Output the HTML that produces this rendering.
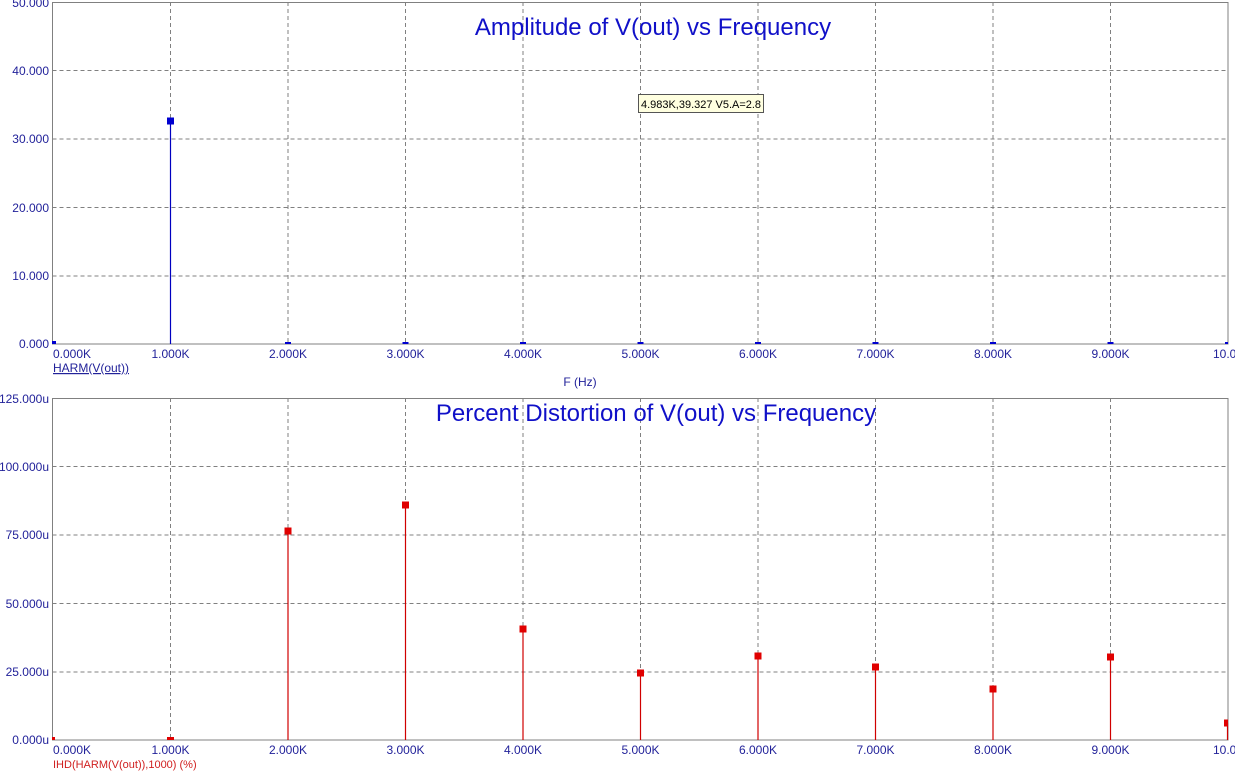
<!DOCTYPE html>
<html><head><meta charset="utf-8"><style>
html,body{margin:0;padding:0;background:#fff;}
svg{display:block;font-family:"Liberation Sans",Arial,sans-serif;}
.t{fill:#22229a;font-size:12px;}
.g{stroke:#808080;stroke-width:1;stroke-dasharray:4,3;}
</style></head><body>
<svg width="1235" height="774" viewBox="0 0 1235 774">
<rect width="1235" height="774" fill="#fff"/>
<!-- TOP PLOT -->
<g class="g">
<line x1="52.5" y1="70.5" x2="1228" y2="70.5"/><line x1="52.5" y1="139" x2="1228" y2="139"/>
<line x1="52.5" y1="207.5" x2="1228" y2="207.5"/><line x1="52.5" y1="276" x2="1228" y2="276"/>
<line x1="170.5" y1="2" x2="170.5" y2="344"/><line x1="288" y1="2" x2="288" y2="344"/>
<line x1="405.5" y1="2" x2="405.5" y2="344"/><line x1="523" y1="2" x2="523" y2="344"/>
<line x1="640.5" y1="2" x2="640.5" y2="344"/><line x1="758" y1="2" x2="758" y2="344"/>
<line x1="875.5" y1="2" x2="875.5" y2="344"/><line x1="993" y1="2" x2="993" y2="344"/>
<line x1="1110.5" y1="2" x2="1110.5" y2="344"/>
</g>
<rect x="52.5" y="2.5" width="1175.5" height="341.5" fill="none" stroke="#808080"/>
<text x="653" y="35" font-size="24" fill="#1010c8" text-anchor="middle">Amplitude of V(out) vs Frequency</text>
<rect x="638.5" y="94.5" width="125" height="18" fill="#ffffe0" stroke="#555"/>
<text x="641" y="108" font-size="11" fill="#000" textLength="120" lengthAdjust="spacingAndGlyphs">4.983K,39.327 V5.A=2.8</text>
<g class="t" text-anchor="end">
<text x="49" y="7">50.000</text><text x="49" y="75">40.000</text><text x="49" y="143">30.000</text>
<text x="49" y="212">20.000</text><text x="49" y="280">10.000</text><text x="49" y="348">0.000</text>
</g>
<g stroke="#0000c0" stroke-width="1.2"><line x1="170.5" y1="121" x2="170.5" y2="344"/></g>
<g fill="#0000d0">
<rect x="167" y="117.5" width="7" height="7"/>
<rect x="52" y="341" width="4" height="3"/>
<rect x="285" y="342" width="6" height="2"/><rect x="402.5" y="342" width="6" height="2"/>
<rect x="520" y="342" width="6" height="2"/><rect x="637.5" y="342" width="6" height="2"/>
<rect x="755" y="342" width="6" height="2"/><rect x="872.5" y="342" width="6" height="2"/>
<rect x="990" y="342" width="6" height="2"/><rect x="1107.5" y="342" width="6" height="2"/>
<rect x="1225" y="342" width="3" height="2"/>
</g>
<g class="t" text-anchor="middle">
<text x="53" y="358" text-anchor="start">0.000K</text><text x="170.5" y="358">1.000K</text>
<text x="288" y="358">2.000K</text><text x="405.5" y="358">3.000K</text><text x="523" y="358">4.000K</text>
<text x="640.5" y="358">5.000K</text><text x="758" y="358">6.000K</text><text x="875.5" y="358">7.000K</text>
<text x="993" y="358">8.000K</text><text x="1110.5" y="358">9.000K</text><text x="1213" y="358" text-anchor="start">10.000K</text>
</g>
<text x="53" y="372" class="t" font-size="11" text-decoration="underline">HARM(V(out))</text>
<text x="580" y="386" class="t" font-size="11" text-anchor="middle">F (Hz)</text>
<!-- BOTTOM PLOT -->
<g class="g">
<line x1="52.5" y1="466.5" x2="1228" y2="466.5"/><line x1="52.5" y1="535" x2="1228" y2="535"/>
<line x1="52.5" y1="603.5" x2="1228" y2="603.5"/><line x1="52.5" y1="672" x2="1228" y2="672"/>
<line x1="170.5" y1="398" x2="170.5" y2="740"/><line x1="288" y1="398" x2="288" y2="740"/>
<line x1="405.5" y1="398" x2="405.5" y2="740"/><line x1="523" y1="398" x2="523" y2="740"/>
<line x1="640.5" y1="398" x2="640.5" y2="740"/><line x1="758" y1="398" x2="758" y2="740"/>
<line x1="875.5" y1="398" x2="875.5" y2="740"/><line x1="993" y1="398" x2="993" y2="740"/>
<line x1="1110.5" y1="398" x2="1110.5" y2="740"/>
</g>
<rect x="52.5" y="398.5" width="1175.5" height="341.5" fill="none" stroke="#808080"/>
<text x="656" y="421" font-size="24" fill="#1010c8" text-anchor="middle">Percent Distortion of V(out) vs Frequency</text>
<g class="t" text-anchor="end">
<text x="49" y="403">125.000u</text><text x="49" y="471">100.000u</text><text x="49" y="539">75.000u</text>
<text x="49" y="608">50.000u</text><text x="49" y="676">25.000u</text><text x="49" y="744">0.000u</text>
</g>
<g stroke="#d00000" stroke-width="1.2">
<line x1="288" y1="531" x2="288" y2="740"/><line x1="405.5" y1="505" x2="405.5" y2="740"/>
<line x1="523" y1="629" x2="523" y2="740"/><line x1="640.5" y1="673" x2="640.5" y2="740"/>
<line x1="758" y1="656" x2="758" y2="740"/><line x1="875.5" y1="667" x2="875.5" y2="740"/>
<line x1="993" y1="689" x2="993" y2="740"/><line x1="1110.5" y1="657" x2="1110.5" y2="740"/>
<line x1="1227.5" y1="723" x2="1227.5" y2="740"/>
</g>
<g fill="#e00000">
<rect x="284.5" y="527.5" width="7" height="7"/><rect x="402" y="501.5" width="7" height="7"/>
<rect x="519.5" y="625.5" width="7" height="7"/><rect x="637" y="669.5" width="7" height="7"/>
<rect x="754.5" y="652.5" width="7" height="7"/><rect x="872" y="663.5" width="7" height="7"/>
<rect x="989.5" y="685.5" width="7" height="7"/><rect x="1107" y="653.5" width="7" height="7"/>
<rect x="1224" y="719.5" width="4" height="7"/>
<rect x="167" y="737" width="7" height="3"/><rect x="52" y="737" width="3" height="3"/>
</g>
<g class="t" text-anchor="middle">
<text x="53" y="754" text-anchor="start">0.000K</text><text x="170.5" y="754">1.000K</text>
<text x="288" y="754">2.000K</text><text x="405.5" y="754">3.000K</text><text x="523" y="754">4.000K</text>
<text x="640.5" y="754">5.000K</text><text x="758" y="754">6.000K</text><text x="875.5" y="754">7.000K</text>
<text x="993" y="754">8.000K</text><text x="1110.5" y="754">9.000K</text><text x="1213" y="754" text-anchor="start">10.000K</text>
</g>
<text x="53" y="768" font-size="11" fill="#d02020">IHD(HARM(V(out)),1000) (%)</text>
</svg>
</body></html>
